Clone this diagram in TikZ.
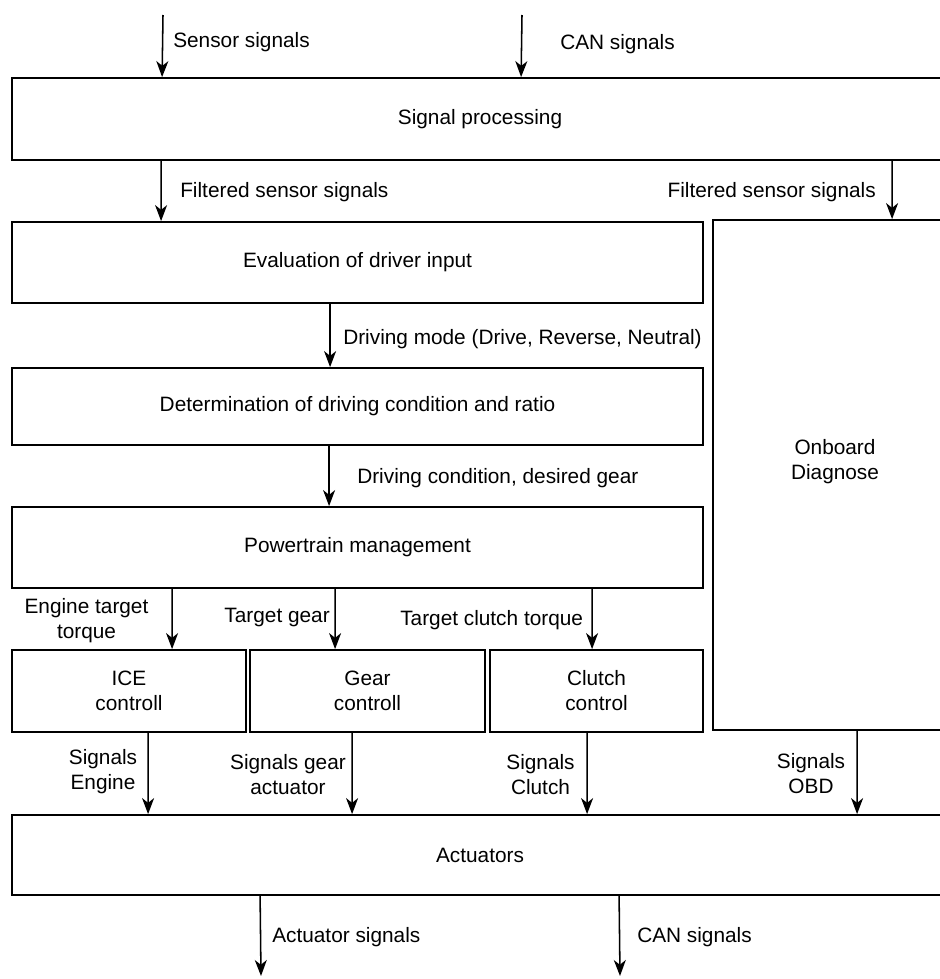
\documentclass[tikz,border=0pt]{standalone}
\usepackage{fontspec}
\setmainfont{Liberation Sans}
\usetikzlibrary{arrows.meta}

\begin{document}
\begin{tikzpicture}[blk/.style={draw, line width=1.3pt, inner sep=0pt, align=center},
  sig/.style={line width=1.1pt, -{Stealth[length=4mm,width=3mm,inset=1.2mm]}},
  lbl/.style={inner sep=0pt, align=center},
  font=\fontsize{14.8}{17.8}\selectfont]
\useasboundingbox (0,0) rectangle (23.5,-24.475); \clip (0,0) rectangle (23.5,-24.475);
\node[blk, minimum width=23.4cm, minimum height=2.05cm] (sigproc) at (12,-2.975) {Signal processing};
\node[blk, minimum width=17.275cm, minimum height=2.025cm] (evaldrv) at (8.9375,-6.5625) {Evaluation of driver input};
\node[blk, minimum width=6.1cm, minimum height=12.75cm, label={[lbl, yshift=3.25mm]center:Onboard\\Diagnose}] (obd) at (20.875,-11.875) {};
\node[blk, minimum width=17.275cm, minimum height=1.925cm] (determ) at (8.9375,-10.1625) {Determination of driving condition and ratio};
\node[blk, minimum width=17.275cm, minimum height=2.025cm] (ptmgmt) at (8.9375,-13.6875) {Powertrain management};
\node[blk, minimum width=5.85cm, minimum height=2.05cm] (ice) at (3.225,-17.275) {ICE\\controll};
\node[blk, minimum width=5.875cm, minimum height=2.05cm] (gear) at (9.1875,-17.275) {Gear\\controll};
\node[blk, minimum width=5.325cm, minimum height=2.05cm] (clutch) at (14.9125,-17.275) {Clutch\\control};
\node[blk, minimum width=23.4cm, minimum height=2cm] (act) at (12,-21.375) {Actuators};

\coordinate (sensin) at (4.075,-0.375); \coordinate (canin) at (13.05,-0.375);
\coordinate (actout) at (6.525,-24.4); \coordinate (canout) at (15.5,-24.4);

\draw[sig] (sensin) -- ([xshift=3.775cm]sigproc.north west);
\draw[sig] (canin) -- ([xshift=12.75cm]sigproc.north west);
\draw[sig] ([xshift=3.75cm]sigproc.south west) -- ([xshift=3.75cm]evaldrv.north west);
\draw[sig] ([xshift=22.025cm]sigproc.south west) -- ([xshift=4.5cm]obd.north west);
\draw[sig] ([xshift=7.975cm]evaldrv.south west) -- ([xshift=7.975cm]determ.north west);
\draw[sig] ([xshift=7.95cm]determ.south west) -- ([xshift=7.95cm]ptmgmt.north west);
\draw[sig] ([xshift=4.025cm]ptmgmt.south west) -- ([xshift=4.025cm]ice.north west);
\draw[sig] ([xshift=8.1cm]ptmgmt.south west) -- ([xshift=2.15cm]gear.north west);
\draw[sig] ([xshift=14.525cm]ptmgmt.south west) -- ([xshift=2.575cm]clutch.north west);
\draw[sig] ([xshift=3.425cm]ice.south west) -- ([xshift=3.425cm]act.north west);
\draw[sig] ([xshift=2.575cm]gear.south west) -- ([xshift=8.525cm]act.north west);
\draw[sig] ([xshift=2.45cm]clutch.south west) -- ([xshift=14.4cm]act.north west);
\draw[sig] ([xshift=3.625cm]obd.south west) -- ([xshift=21.15cm]act.north west);
\draw[sig] ([xshift=6.225cm]act.south west) -- (actout);
\draw[sig] ([xshift=15.2cm]act.south west) -- (canout);

\node[lbl, anchor=base west] (lsens) at (4.325,-1.175) {Sensor signals};
\node[lbl, anchor=base west] (lcanin) at (14,-1.225) {CAN signals};
\node[lbl, anchor=base west] (lfilt) at (4.5,-4.925) {Filtered sensor signals};
\node[lbl, anchor=base east] (lfiltobd) at (21.9,-4.925) {Filtered sensor signals};
\node[lbl, anchor=base west] (lmode) at (8.575,-8.6) {Driving mode (Drive, Reverse, Neutral)};
\node[lbl, anchor=base west] (lcond) at (8.925,-12.075) {Driving condition, desired gear};
\node[lbl] (lengtq) at (2.1625,-15.525) {Engine target\\torque};
\node[lbl, anchor=base east] (ltgear) at (8.25,-15.55) {Target gear};
\node[lbl, anchor=base west] (lclutq) at (10,-15.625) {Target clutch torque};
\node[lbl] (lsigeng) at (2.575,-19.3) {Signals\\Engine};
\node[lbl] (lsiggear) at (7.2,-19.375) {Signals gear\\actuator};
\node[lbl] (lsigclu) at (13.5125,-19.375) {Signals\\Clutch};
\node[lbl] (lsigobd) at (20.275,-19.35) {Signals\\OBD};
\node[lbl, anchor=base west] (lactout) at (6.8,-23.55) {Actuator signals};
\node[lbl, anchor=base west] (lcanout) at (15.925,-23.55) {CAN signals};
\end{tikzpicture}
\end{document}
